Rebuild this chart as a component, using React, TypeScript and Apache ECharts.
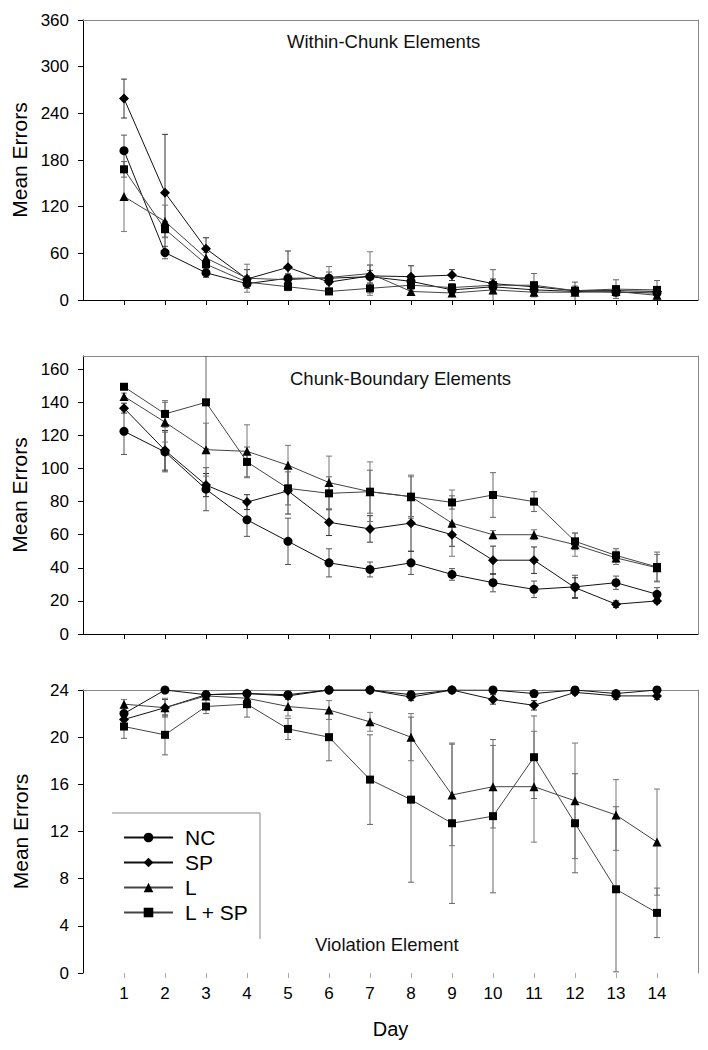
import React, { useEffect, useRef } from "react";
import * as echarts from "echarts";

const FONT = 'Arial, "Liberation Sans", Helvetica, sans-serif';

const days = [1, 2, 3, 4, 5, 6, 7, 8, 9, 10, 11, 12, 13, 14];
const groups = ["NC", "SP", "L", "L + SP"];
const panelTitles = ["Within-Chunk Elements", "Chunk-Boundary Elements", "Violation Element"];
const yMax = [360, 168, 24];
const yStep = [60, 20, 4];
const yTicks1 = [0, 60, 120, 180, 240, 300, 360];
const yTicks2 = [0, 20, 40, 60, 80, 100, 120, 140, 160];
const yTicks3 = [0, 4, 8, 12, 16, 20, 24];

// Panel 1: Within-Chunk Elements
const withinNC = [192, 61, 35, 21, 28, 28, 30, 24, 13, 17, 13, 11, 10, 9];
const withinSP = [259, 138, 66, 27, 42, 23, 31, 30, 32, 21, 17, 12, 12, 11];
const withinL = [133, 101, 54, 28, 26, 29, 34, 11, 9, 13, 10, 10, 11, 6];
const withinLSP = [168, 91, 46, 23, 17, 11, 15, 19, 16, 19, 19, 12, 14, 13];
const withinNCErr = [20, 8, 6, 6, 6, 8, 8, 8, 5, 6, 5, 12, 5, 4];
const withinSPErr = [25, 75, 14, 12, 21, 8, 14, 14, 7, 6, 6, 4, 4, 5];
const withinLErr = [45, 21, 7, 18, 8, 14, 28, 5, 4, 5, 4, 3, 4, 4];
const withinLSPErr = [10, 10, 6, 8, 5, 4, 6, 6, 5, 20, 15, 6, 12, 12];

// Panel 2: Chunk-Boundary Elements
const boundNC = [122.5, 110, 87.5, 69, 56, 43, 39, 43, 36, 31, 27, 28.5, 31, 24];
const boundSP = [136.5, 111, 90, 79.7, 86.5, 67.5, 63.5, 67, 60, 44.6, 44.6, 28, 18, 20];
const boundL = [143.6, 128, 111.4, 110.4, 102, 91.5, 86, 83, 67, 60, 60, 54, 46, 40];
const boundLSP = [149.4, 133, 140, 104, 88, 85, 86, 83, 79.5, 84, 80, 56, 47.5, 40.5];
const boundNCErr = [14, 12, 13, 10, 14, 8.5, 4.5, 7, 3.5, 5.5, 5, 7, 4, 4];
const boundSPErr = [3, 12, 7, 4.5, 14, 8, 8, 17, 7, 8.5, 8, 6, 2, 1.5];
const boundLErr = [2, 12, 16, 16, 12, 16, 18, 12, 20, 2.5, 3, 7, 4, 8];
const boundLSPErr = [1.5, 8, 28, 9, 10, 10, 13, 13, 4, 13.5, 6, 5, 4, 9];

// Panel 3: Violation Element
const violNC = [22.0, 24, 23.6, 23.7, 23.6, 24, 24, 23.6, 24, 24, 23.7, 24, 23.7, 24];
const violSP = [21.5, 22.5, 23.6, 23.7, 23.5, 24, 24, 23.4, 24, 23.2, 22.7, 23.8, 23.5, 23.5];
const violL = [22.8, 22.5, 23.5, 23.3, 22.6, 22.3, 21.3, 20.0, 15.1, 15.8, 15.8, 14.6, 13.4, 11.1];
const violLSP = [20.9, 20.2, 22.6, 22.8, 20.7, 20.0, 16.4, 14.7, 12.7, 13.3, 18.3, 12.7, 7.1, 5.1];
const violNCErr = [0.5, 0, 0.3, 0.3, 0.3, 0, 0, 0.3, 0, 0, 0.3, 0, 0.3, 0];
const violSPErr = [0.5, 0.7, 0.3, 0.5, 0.3, 0, 0, 0.3, 0, 0.4, 0.4, 0.2, 0.3, 0.3];
const violLErr = [0.4, 0.8, 0.3, 0.5, 0.8, 0.8, 0.8, 2.0, 4.3, 3.5, 4.7, 4.9, 3.0, 4.5];
const violLSPErr = [1.0, 1.7, 0.6, 1.1, 0.9, 2.0, 3.8, 7.0, 6.8, 6.5, 3.5, 4.2, 7.0, 2.1];

const panelValues = [
  [withinNC, withinSP, withinL, withinLSP],
  [boundNC, boundSP, boundL, boundLSP],
  [violNC, violSP, violL, violLSP],
];
const panelErrors = [
  [withinNCErr, withinSPErr, withinLErr, withinLSPErr],
  [boundNCErr, boundSPErr, boundLErr, boundLSPErr],
  [violNCErr, violSPErr, violLErr, violLSPErr],
];
const panelTicks = [yTicks1, yTicks2, yTicks3];

const symbols = ["circle", "diamond", "triangle", "rect"];
const symbolSizes = [9, 10, 9, 8];
const lineColors = ["#111", "#111", "#444", "#444"];
const errColors = ["#555", "#333", "#777", "#666"];

const grids = [
  { left: 83, top: 20, width: 615, height: 280 },
  { left: 83, top: 356, width: 615, height: 278 },
  { left: 83, top: 690, width: 615, height: 283 },
];
const titlePos = [
  { left: 287, top: 32 },
  { left: 290, top: 369 },
  { left: 315, top: 935 },
];

function buildOption() {
  const xAxis: any[] = [];
  const yAxis: any[] = [];
  const series: any[] = [];
  for (let p = 0; p < 3; p++) {
    xAxis.push({
      type: "value",
      gridIndex: p,
      min: 0,
      max: 15,
      interval: 1,
      position: "bottom",
      axisLine: { show: p < 2, onZero: false, lineStyle: { color: "#000", width: 1 } },
      axisTick: {
        show: true,
        customValues: days,
        length: 5,
        lineStyle: { color: p < 2 ? "#000" : "#aaa" },
      },
      axisLabel: {
        show: p === 2,
        customValues: days,
        fontSize: 17,
        color: "#000",
        margin: 12,
        fontFamily: FONT,
      },
      splitLine: { show: false },
      name: p === 2 ? "Day" : "",
      nameLocation: "middle",
      nameGap: 46,
      nameTextStyle: { fontSize: 20, color: "#000", fontFamily: FONT },
    });
    xAxis.push({
      type: "value",
      gridIndex: p,
      min: 0,
      max: 15,
      position: "top",
      axisLine: { show: true, onZero: false, lineStyle: { color: "#888", width: 1 } },
      axisTick: { show: false },
      axisLabel: { show: false },
      splitLine: { show: false },
    });
    yAxis.push({
      type: "value",
      gridIndex: p,
      min: 0,
      max: yMax[p],
      interval: yStep[p],
      position: "left",
      axisLine: { show: true, onZero: false, lineStyle: { color: "#000", width: 1 } },
      axisTick: { show: true, length: 5, customValues: panelTicks[p], lineStyle: { color: "#000" } },
      axisLabel: {
        customValues: panelTicks[p],
        fontSize: 17,
        color: "#000",
        margin: 14,
        fontFamily: FONT,
      },
      splitLine: { show: false },
      name: "Mean Errors",
      nameLocation: "middle",
      nameGap: 52,
      nameRotate: 90,
      nameTextStyle: { fontSize: 21, color: "#000", fontFamily: FONT },
    });
    yAxis.push({
      type: "value",
      gridIndex: p,
      min: 0,
      max: yMax[p],
      position: "right",
      axisLine: { show: true, onZero: false, lineStyle: { color: "#888", width: 1 } },
      axisTick: { show: false },
      axisLabel: { show: false },
      splitLine: { show: false },
    });

    for (let g = 0; g < 4; g++) {
      const vals = panelValues[p][g];
      const errs = panelErrors[p][g];
      const color = errColors[g];
      series.push({
        type: "custom",
        xAxisIndex: p * 2,
        yAxisIndex: p * 2,
        clip: true,
        silent: true,
        z: 2,
        encode: { x: 0, y: [1, 2] },
        data: days.map((d, k) => [d, vals[k] - errs[k], vals[k] + errs[k]]),
        renderItem: (params: any, api: any) => {
          const x = api.value(0);
          const lo = api.value(1);
          const hi = api.value(2);
          if (hi - lo <= 0) return { type: "group", children: [] };
          const a = api.coord([x, lo]);
          const b = api.coord([x, hi]);
          const w = 3;
          const style = { stroke: color, lineWidth: 1 };
          return {
            type: "group",
            children: [
              { type: "line", shape: { x1: a[0], y1: a[1], x2: b[0], y2: b[1] }, style },
              { type: "line", shape: { x1: a[0] - w, y1: a[1], x2: a[0] + w, y2: a[1] }, style },
              { type: "line", shape: { x1: b[0] - w, y1: b[1], x2: b[0] + w, y2: b[1] }, style },
            ],
          };
        },
      });
      series.push({
        type: "line",
        name: groups[g],
        xAxisIndex: p * 2,
        yAxisIndex: p * 2,
        data: days.map((d, k) => [d, vals[k]]),
        symbol: symbols[g],
        symbolSize: symbolSizes[g],
        showAllSymbol: true,
        itemStyle: { color: "#000" },
        lineStyle: { color: lineColors[g], width: 1 },
        z: 3,
      });
    }
  }

  return {
    animation: false,
    backgroundColor: "#fff",
    textStyle: { fontFamily: FONT },
    grid: grids,
    xAxis,
    yAxis,
    series,
    title: panelTitles.map((t, i) => ({
      text: t,
      left: titlePos[i].left,
      top: titlePos[i].top,
      padding: 0,
      textStyle: { fontSize: 18.5, fontWeight: "normal", color: "#111", fontFamily: FONT },
    })),
    legend: {
      data: groups,
      orient: "vertical",
      left: 123,
      top: 827,
      itemWidth: 49,
      itemHeight: 12,
      itemGap: 4,
      padding: 0,
      textStyle: { fontSize: 21, color: "#000", fontFamily: FONT, lineHeight: 20, padding: [0, 0, 0, 7] },
    },
    graphic: [
      {
        type: "polyline",
        shape: { points: [[112, 813], [260, 813], [260, 939]] },
        style: { stroke: "#888", fill: "none", lineWidth: 1 },
        silent: true,
      },
    ],
  };
}

export default function App() {
  const ref = useRef<HTMLDivElement>(null);
  useEffect(() => {
    if (!ref.current) return;
    const chart = echarts.init(ref.current, null, { renderer: "svg" });
    chart.setOption(buildOption() as any);
    return () => chart.dispose();
  }, []);
  return (
    <div
      ref={ref}
      style={{ position: "absolute", left: 0, top: 0, width: 708, height: 1050, background: "#fff" }}
    />
  );
}
